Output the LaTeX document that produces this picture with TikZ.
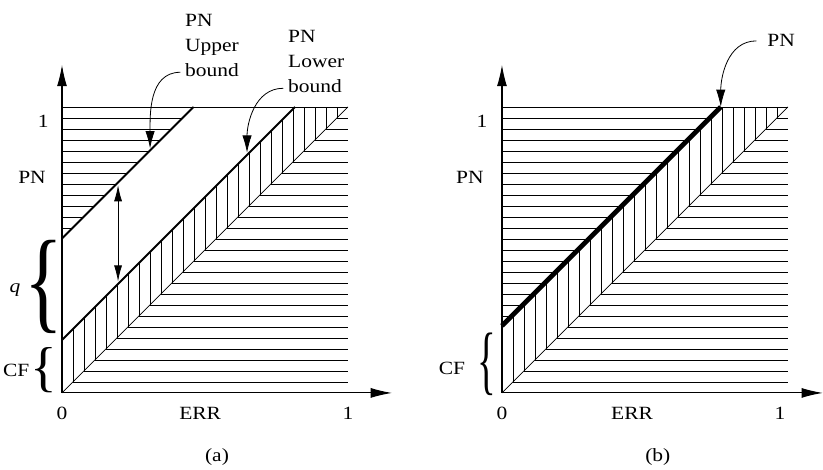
\documentclass[tikz,border=0pt]{standalone}
\usepackage{graphicx}
\usepackage{fontspec}
\setmainfont{Liberation Serif}[FakeStretch=1.15]
\usetikzlibrary{arrows.meta}

\begin{document}
\begin{tikzpicture}[
      x=1cm, y=1cm,
      schraffur/.style={draw=black, line width=0.5pt},
      grenze/.style={line width=1.4pt},
      dickegrenze/.style={line width=3.6pt},
      achse/.style={-{Latex[length=16pt,width=7.5pt]}, black, line width=0.8pt},
      hinweis/.style={-{Latex[length=13pt,width=7pt]}, line width=0.6pt},
      doppelpfeil/.style={{Latex[length=12pt,width=6pt]}-{Latex[length=12pt,width=6pt]}, line width=0.6pt},
      klammer/.style={inner sep=0pt},
      beschriftung/.style={font=\fontsize{14}{18.75}\selectfont, inner sep=0pt}
    ]
    \def\W{7.54}  % Breite und Höhe eines Panels
    \def\D{11.6}  % horizontaler Abstand der Panel-Ursprünge
    \def\N{26}    % Anzahl der Schraffurstreifen
    \useasboundingbox (-0.2168*\W,-0.269*\W) rectangle (2.661*\W,1.374*\W);

    % ---------- (a) obere und untere Schranke ----------
    \begin{scope}[shift={(0,0)}]
      \def\oben{0.54}    % Achsenabschnitt der oberen Schranke
      \def\unten{0.185}  % Achsenabschnitt der unteren Schranke
      % waagerechte Schraffur unter der Diagonalen
      \foreach \k in {1,...,25}{
        \draw[schraffur] ({\k*\W/\N},{\k*\W/\N}) -- (\W,{\k*\W/\N});
      }
      % waagerechte Schraffur über der oberen Schranke
      \foreach \k in {15,...,25}{
        \draw[schraffur] (0,{\k*\W/\N}) -- ({(\k/\N-\oben)*\W},{\k*\W/\N});
      }
      % senkrechte Schraffur zwischen Diagonale und unterer Schranke
      \foreach \k in {1,...,25}{
        \draw[schraffur] ({\k*\W/\N},{\k*\W/\N}) -- ({\k*\W/\N},{min(\k/\N+\unten,1)*\W});
      }
      \draw[schraffur] (0,\W) -- (\W,\W);
      \draw[schraffur] (0,0) -- (\W,\W);
      \draw[grenze] (0,\oben*\W) -- ({(1-\oben)*\W},\W);
      \draw[grenze] (0,\unten*\W) -- ({(1-\unten)*\W},\W);
      \draw[achse] (0,0) -- (0,1.147*\W);
      \draw[achse] (0,0) -- (1.154*\W,0);
      % Abstand zwischen den Schranken
      \coordinate (a-po) at (0.196*\W,0.726*\W);
      \coordinate (a-pu) at (0.196*\W,0.39*\W);
      \draw[doppelpfeil] (a-po) -- (a-pu);
      % Klammern
      \node[klammer] (a-qklammer) at (-0.063*\W,0.37*\W) {\resizebox*{29pt}{70pt}{\{}};
      \node[klammer] (a-cfklammer) at (-0.064*\W,0.08*\W) {\resizebox*{20pt}{34pt}{\{}};
      \node[beschriftung] (a-eins) at (-0.066*\W,0.948*\W) {1};
      \node[beschriftung] (a-pn) at (-0.105*\W,0.755*\W) {PN};
      \node[beschriftung] (a-q) at (-0.164*\W,0.36*\W) {\textit{q}};
      \node[beschriftung] (a-cf) at (-0.16*\W,0.08*\W) {CF};
      \node[beschriftung] (a-null) at (0,-0.07*\W) {0};
      \node[beschriftung] (a-err) at (0.483*\W,-0.07*\W) {ERR};
      \node[beschriftung] (a-einsx) at (\W,-0.07*\W) {1};
      \node[beschriftung] (a-titel) at (0.542*\W,-0.224*\W) {(a)};
      % Hinweise auf die Schranken
      \node[beschriftung, align=left, anchor=north west] (a-ob) at (0.43*\W,1.325*\W) {PN\\Upper\\bound};
      \node[beschriftung, align=left, anchor=north west] (a-ub) at (0.79*\W,1.269*\W) {PN\\Lower\\bound};
      \coordinate (a-obspitze) at (0.308*\W,0.855*\W);
      \coordinate (a-ubspitze) at (0.647*\W,0.84*\W);
      \draw[hinweis] ([xshift=-3.5pt,yshift=3.5pt]a-ob.south west) to[out=180,in=90] (a-obspitze);
      \draw[hinweis] ([xshift=-3.5pt,yshift=3.5pt]a-ub.south west) to[out=180,in=90] (a-ubspitze);
    \end{scope}

    % ---------- (b) PN punktgenau bestimmt ----------
    \begin{scope}[shift={(\D,0)}]
      \def\dick{0.235}  % Achsenabschnitt der PN-Geraden
      \foreach \k in {1,...,25}{
        \draw[schraffur] ({\k*\W/\N},{\k*\W/\N}) -- (\W,{\k*\W/\N});
      }
      \foreach \k in {7,...,25}{
        \draw[schraffur] (0,{\k*\W/\N}) -- ({(\k/\N-\dick)*\W},{\k*\W/\N});
      }
      \foreach \k in {1,...,25}{
        \draw[schraffur] ({\k*\W/\N},{\k*\W/\N}) -- ({\k*\W/\N},{min(\k/\N+\dick,1)*\W});
      }
      \draw[schraffur] (0,\W) -- (\W,\W);
      \draw[schraffur] (0,0) -- (\W,\W);
      \draw[dickegrenze] (0,\dick*\W) -- ({(1-\dick)*\W},\W);
      \draw[achse] (0,0) -- (0,1.147*\W);
      \draw[achse] (0,0) -- (1.122*\W,0);
      \node[klammer] (b-cfklammer) at (-0.054*\W,0.1*\W) {\resizebox*{14pt}{47pt}{\{}};
      \node[beschriftung] (b-eins) at (-0.07*\W,0.948*\W) {1};
      \node[beschriftung] (b-pnachse) at (-0.112*\W,0.755*\W) {PN};
      \node[beschriftung] (b-cf) at (-0.175*\W,0.087*\W) {CF};
      \node[beschriftung] (b-null) at (0,-0.07*\W) {0};
      \node[beschriftung] (b-err) at (0.455*\W,-0.07*\W) {ERR};
      \node[beschriftung] (b-einsx) at (0.972*\W,-0.07*\W) {1};
      \node[beschriftung] (b-titel) at (0.545*\W,-0.224*\W) {(b)};
      % Hinweis auf die PN-Gerade
      \node[beschriftung] (b-pn) at (0.976*\W,1.231*\W) {PN};
      \coordinate (b-spitze) at ({(1-\dick)*\W},\W);
      \draw[hinweis] ([xshift=-8pt]b-pn.west) to[out=180,in=90] (b-spitze);
    \end{scope}
  \end{tikzpicture}
\end{document}
